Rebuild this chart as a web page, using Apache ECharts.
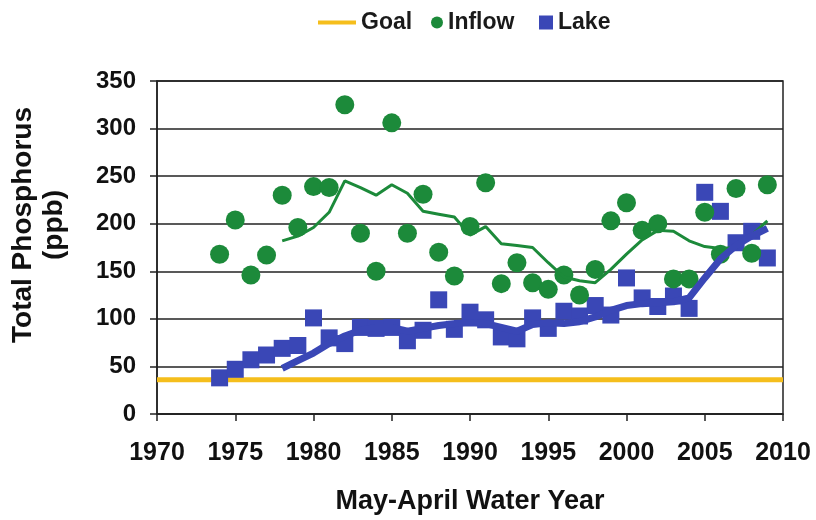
<!DOCTYPE html>
<html>
<head>
<meta charset="utf-8">
<script src="https://cdn.jsdelivr.net/npm/echarts@6/dist/echarts.min.js"></script>
<style>html,body{margin:0;padding:0;background:#fff}#c{width:816px;height:520px}</style>
</head>
<body>
<div id="c"></div>
<script>
// ---- data ----
const inflowYears = [1974,1975,1976,1977,1978,1979,1980,1981,1982,1983,1984,1985,1986,1987,1988,1989,1990,1991,1992,1993,1994,1995,1996,1997,1998,1999,2000,2001,2002,2003,2004,2005,2006,2007,2008,2009];
const inflowValues = [168,204,146,167,230,196,239,238,325,190,150,306,190,231,170,145,197,243,137,159,138,131,146,125,152,203,222,193,200,142,142,212,168,237,169,241];

const lakeYears = [1974,1975,1976,1977,1978,1979,1980,1981,1982,1983,1984,1985,1986,1987,1988,1989,1990,1991,1992,1993,1994,1995,1996,1997,1998,1999,2000,2001,2002,2003,2004,2005,2006,2007,2008,2009];
const lakeValues = [38,47,57,62,69,72,101,80,74,91,90,91,77,88,120,89,107,99,81,79,101,90,108,103,114,104,143,122,113,124,111,233,213,180,192,164];

const trendYears = [1978,1979,1980,1981,1982,1983,1984,1985,1986,1987,1988,1989,1990,1991,1992,1993,1994,1995,1996,1997,1998,1999,2000,2001,2002,2003,2004,2005,2006,2007,2008,2009];
const inflowTrend = [182,187,196,212,245,238,230,241,232,213,210,207,188,197,179,177,175,159,144,140,138,152,168,183,193,192,182,176,174,175,188,203];
const lakeTrend = [48,56,64,74,82,88,91,91,87,90,93,95,96,95,91,87,94,96,95,97,102,109,114,116,117,118,122,143,163,177,187,195];

const goalValue = 36;
const xMin = 1970, xMax = 2010, xStep = 5;
const yMin = 0, yMax = 350, yStep = 50;

// ---- style ----
const GREEN = '#1c8a3a';
const BLUE = '#3a47b6';
const YELLOW = '#f5be1c';
const FONT = '"Liberation Sans", Arial, sans-serif';

const zip = (xs, ys) => xs.map((x, i) => [x, ys[i]]);

const chart = echarts.init(document.getElementById('c'), null, {renderer: 'canvas'});
const legendText = {fontFamily: FONT, fontWeight: 'bold', fontSize: 23, color: '#1a1a1a'};

chart.setOption({
  animation: false,
  backgroundColor: '#fff',
  grid: {left: 157, right: 33, top: 81, bottom: 106, show: true, borderColor: '#222', borderWidth: 1.5, backgroundColor: 'transparent'},
  legend: [
    {data: [{name: 'Goal', icon: 'rect'}], left: 313, top: 6, itemWidth: 38, itemHeight: 4, textStyle: legendText, selectedMode: false},
    {data: [{name: 'Inflow', icon: 'circle'}], left: 426, top: 6, itemWidth: 12, itemHeight: 12, textStyle: legendText, selectedMode: false},
    {data: [{name: 'Lake', icon: 'rect'}], left: 534, top: 6, itemWidth: 14, itemHeight: 14, textStyle: legendText, selectedMode: false}
  ],
  xAxis: {
    type: 'value', min: xMin, max: xMax, interval: xStep,
    name: 'May-April Water Year', nameLocation: 'middle', nameGap: 74,
    nameTextStyle: {fontFamily: FONT, fontWeight: 'bold', fontSize: 27, color: '#111'},
    axisLine: {lineStyle: {color: '#222', width: 1.5}},
    axisTick: {show: true, length: 7, lineStyle: {color: '#222', width: 1.5}},
    axisLabel: {margin: 27, fontFamily: FONT, fontWeight: 'bold', fontSize: 25, color: '#111', formatter: v => String(v)},
    splitLine: {show: false}
  },
  yAxis: {
    type: 'value', min: yMin, max: yMax, interval: yStep,
    axisLine: {show: true, lineStyle: {color: '#222', width: 1.5}},
    axisTick: {show: true, length: 7, lineStyle: {color: '#222', width: 1.5}},
    axisLabel: {margin: 21, fontFamily: FONT, fontWeight: 'bold', fontSize: 24, color: '#111'},
    splitLine: {show: true, lineStyle: {color: '#222', width: 1.5}}
  },
  graphic: [{
    type: 'text', x: 39, y: 225, rotation: Math.PI / 2,
    style: {text: 'Total Phosphorus\n(ppb)', font: 'bold 28px ' + FONT, lineHeight: 31, align: 'center', verticalAlign: 'middle', fill: '#111'}
  }],
  series: [
    {name: 'Goal', type: 'line', data: [[xMin, goalValue], [xMax, goalValue]], symbol: 'none',
     lineStyle: {color: YELLOW, width: 5}, itemStyle: {color: YELLOW}, z: 2},
    {name: 'Lake', type: 'scatter', data: zip(lakeYears, lakeValues), symbol: 'rect', symbolSize: 17,
     itemStyle: {color: BLUE, opacity: 1}, z: 3},
    {name: 'Inflow', type: 'scatter', data: zip(inflowYears, inflowValues), symbol: 'circle', symbolSize: 19,
     itemStyle: {color: GREEN, opacity: 1}, z: 4},
    {name: 'Inflow trend', type: 'line', data: zip(trendYears, inflowTrend), symbol: 'none',
     lineStyle: {color: GREEN, width: 3}, z: 5},
    {name: 'Lake trend', type: 'line', data: zip(trendYears, lakeTrend), symbol: 'none',
     lineStyle: {color: BLUE, width: 7}, z: 6}
  ]
});
</script>
</body>
</html>
